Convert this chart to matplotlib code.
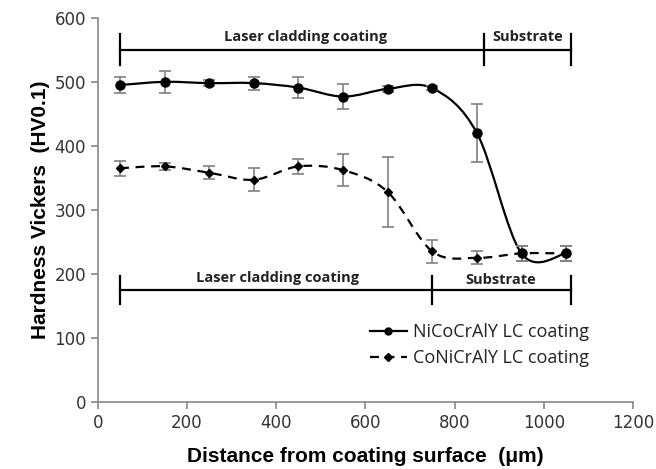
import numpy as np
import matplotlib
matplotlib.use("Agg")
from matplotlib import pyplot as plt
from matplotlib.path import Path
from matplotlib.patches import PathPatch
from matplotlib.lines import Line2D

# depth positions (um)
dist = [50, 150, 250, 350, 450, 550, 650, 750, 850, 950, 1050]

ni_hv = [495, 500, 498, 498, 491, 477, 489, 490, 420, 232, 232]
ni_err = [12, 17, 5, 10, 17, 20, 5, 3, 45, 12, 12]

co_hv = [365, 368, 358, 347, 368, 362, 328, 235, 225, 232, 232]
co_err = [12, 5, 10, 18, 12, 25, 55, 18, 10, 12, 12]

# zone brackets: (start, divider, end)
top_zone = [50, 865, 1060]
bot_zone = [50, 750, 1060]


def smooth_path(x, y):
    # Excel-like smoothed line (Catmull-Rom as cubic bezier)
    x = np.asarray(x, float)
    y = np.asarray(y, float)
    n = len(x)
    verts = [(x[0], y[0])]
    codes = [Path.MOVETO]
    for i in range(n - 1):
        i0 = max(i - 1, 0)
        i3 = min(i + 2, n - 1)
        c1 = (x[i] + (x[i + 1] - x[i0]) / 6, y[i] + (y[i + 1] - y[i0]) / 6)
        c2 = (x[i + 1] - (x[i3] - x[i]) / 6, y[i + 1] - (y[i3] - y[i]) / 6)
        verts += [c1, c2, (x[i + 1], y[i + 1])]
        codes += [Path.CURVE4] * 3
    return Path(verts, codes)


fig = plt.figure(figsize=(6.56, 4.69), dpi=100)
ax = fig.add_axes([0.149, 0.143, 0.816, 0.819])

ax.add_patch(PathPatch(smooth_path(dist, ni_hv), fill=False, lw=1.6, color="black"))
ax.add_patch(PathPatch(smooth_path(dist, co_hv), fill=False, lw=1.6, color="black",
                       linestyle=(0, (4, 3))))

ax.errorbar(dist, ni_hv, yerr=ni_err, fmt="o", color="black", ms=6.5,
            ecolor="#808080", elinewidth=1.2, capsize=4, capthick=1.2)
ax.errorbar(dist, co_hv, yerr=co_err, fmt="D", color="black", ms=4.5,
            ecolor="#808080", elinewidth=1.2, capsize=4, capthick=1.2)

# brackets
for zone, yb, h in [(top_zone, 550, 24), (bot_zone, 175, 22)]:
    ax.plot([zone[0], zone[2]], [yb, yb], color="black", lw=1.6)
    for xv in zone:
        ax.plot([xv, xv], [yb - h, yb + h], color="black", lw=1.6)
txt = dict(ha="center", va="center", fontsize=10.5, fontweight="bold",
           family="Open Sans", color="#222222")
ax.text(466, 570, "Laser cladding coating", **txt)
ax.text(964, 570, "Substrate", **txt)
ax.text(402, 194, "Laser cladding coating", **txt)
ax.text(904, 190, "Substrate", **txt)

handles = [Line2D([], [], color="black", lw=1.6, marker="o", ms=5),
           Line2D([], [], color="black", lw=1.6, marker="D", ms=4, linestyle=(0, (4, 3)))]
ax.legend(handles, ["NiCoCrAlY LC coating", "CoNiCrAlY LC coating"],
          loc="upper left", bbox_to_anchor=(0.508, 0.205), frameon=False,
          borderpad=0, borderaxespad=0,
          handlelength=2.05, handletextpad=0.33, labelspacing=0.45,
          prop={"family": "Open Sans", "size": 13}, labelcolor="#222222")

ax.set_xlim(0, 1200)
ax.set_ylim(0, 600)
ax.set_xticks(np.arange(0, 1201, 200))
ax.set_yticks(np.arange(0, 601, 100))
for s in ["top", "right"]:
    ax.spines[s].set_visible(False)
for s in ["left", "bottom"]:
    ax.spines[s].set_color("#888888")
    ax.spines[s].set_linewidth(1.2)
ax.tick_params(colors="#888888", labelcolor="#333333", labelsize=12,
               length=5, width=1.2, direction="out")
for lab in ax.get_xticklabels() + ax.get_yticklabels():
    lab.set_family("DejaVu Sans")

ax.set_xlabel("Distance from coating surface  (\u03bcm)", fontsize=15,
              fontweight="bold", family="Liberation Sans", va="center")
ax.set_ylabel("Hardness Vickers  (HV0.1)", fontsize=15,
              fontweight="bold", family="Liberation Sans", va="center")
ax.xaxis.set_label_coords(0.5, -0.141)
ax.yaxis.set_label_coords(-0.107, 0.5)

fig.savefig("out.png", dpi=100)
